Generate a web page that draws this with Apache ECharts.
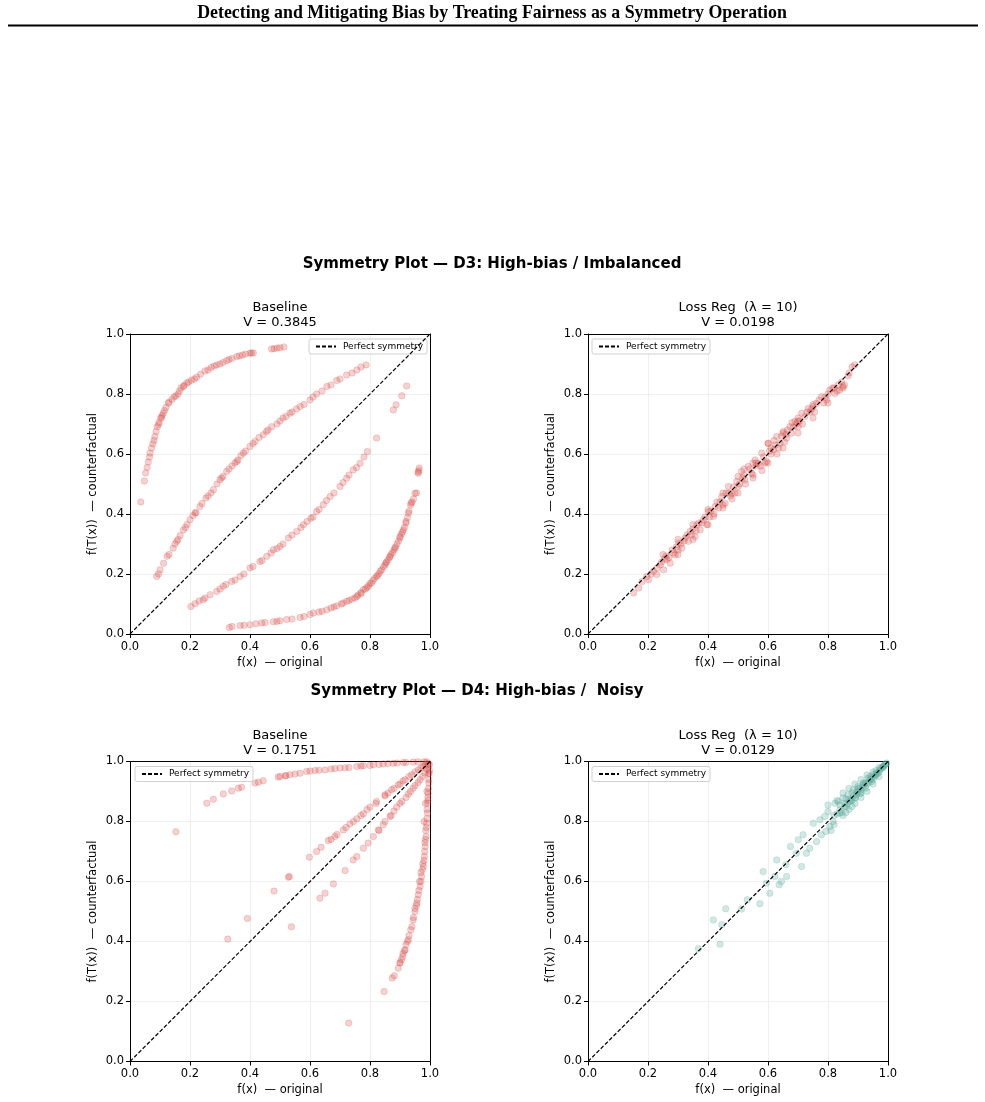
<!DOCTYPE html>
<html>
<head>
<meta charset="utf-8">
<script src="https://cdn.jsdelivr.net/npm/echarts@6/dist/echarts.min.js"></script>
<style>
html, body { margin: 0; padding: 0; background: #fff; }
#symmetry-plots { width: 985px; height: 1102px; }
</style>
</head>
<body>
<div id="symmetry-plots"></div>
<script>
// values: [f(x), f(T(x))]
const d3Baseline = [
  // upper arc
  [0.036,0.44],[0.048,0.51],[0.052,0.537],[0.057,0.555],[0.061,0.573],[0.065,0.59],[0.067,0.603],
  [0.072,0.62],[0.076,0.634],[0.08,0.645],[0.083,0.658],[0.087,0.675],[0.091,0.691],[0.095,0.698],
  [0.097,0.705],[0.102,0.719],[0.105,0.722],[0.107,0.728],[0.111,0.736],[0.115,0.745],[0.12,0.755],
  [0.128,0.769],[0.13,0.773],[0.14,0.782],[0.147,0.79],[0.153,0.794],[0.16,0.8],[0.165,0.81],
  [0.17,0.82],[0.178,0.825],[0.18,0.828],[0.189,0.836],[0.195,0.84],[0.205,0.846],[0.215,0.85],
  [0.222,0.856],[0.235,0.866],[0.25,0.877],[0.26,0.88],[0.27,0.888],[0.28,0.893],[0.289,0.897],
  [0.3,0.9],[0.31,0.905],[0.322,0.911],[0.33,0.915],[0.34,0.918],[0.356,0.925],[0.365,0.927],
  [0.375,0.93],[0.385,0.933],[0.4,0.936],[0.405,0.937],[0.411,0.937],[0.472,0.95],[0.48,0.951],
  [0.49,0.953],[0.5,0.954],[0.513,0.957],
  // middle upper band
  [0.089,0.192],[0.095,0.2],[0.1,0.214],[0.112,0.236],[0.124,0.259],[0.13,0.265],[0.144,0.286],
  [0.15,0.3],[0.156,0.309],[0.16,0.315],[0.167,0.328],[0.178,0.347],[0.185,0.355],[0.19,0.365],
  [0.2,0.381],[0.21,0.395],[0.217,0.403],[0.22,0.405],[0.233,0.425],[0.24,0.435],[0.253,0.453],
  [0.26,0.46],[0.27,0.47],[0.278,0.481],[0.29,0.5],[0.3,0.514],[0.305,0.52],[0.31,0.525],
  [0.322,0.542],[0.33,0.55],[0.34,0.56],[0.35,0.57],[0.356,0.575],[0.36,0.58],[0.37,0.595],
  [0.378,0.603],[0.385,0.61],[0.4,0.625],[0.41,0.635],[0.417,0.642],[0.43,0.655],[0.444,0.664],
  [0.455,0.675],[0.46,0.68],[0.472,0.691],[0.49,0.7],[0.5,0.71],[0.51,0.72],[0.52,0.725],
  [0.533,0.736],[0.54,0.74],[0.555,0.75],[0.567,0.758],[0.58,0.765],[0.6,0.78],[0.61,0.79],
  [0.622,0.8],[0.64,0.81],[0.656,0.825],[0.67,0.83],[0.689,0.845],[0.7,0.85],[0.722,0.863],
  [0.74,0.87],[0.756,0.88],[0.77,0.89],[0.787,0.897],
  // middle lower band
  [0.203,0.092],[0.217,0.101],[0.23,0.11],[0.244,0.114],[0.25,0.12],[0.267,0.131],[0.289,0.142],
  [0.3,0.15],[0.311,0.159],[0.32,0.165],[0.339,0.175],[0.35,0.18],[0.367,0.192],[0.38,0.2],
  [0.4,0.22],[0.41,0.225],[0.433,0.242],[0.44,0.245],[0.456,0.259],[0.47,0.27],[0.478,0.281],
  [0.49,0.285],[0.5,0.292],[0.51,0.3],[0.528,0.32],[0.54,0.33],[0.556,0.342],[0.57,0.355],
  [0.578,0.364],[0.59,0.375],[0.603,0.386],[0.61,0.39],[0.622,0.408],[0.63,0.415],[0.644,0.431],
  [0.655,0.445],[0.667,0.458],[0.68,0.47],[0.7,0.492],[0.71,0.505],[0.722,0.519],[0.73,0.53],
  [0.744,0.547],[0.755,0.555],[0.767,0.569],[0.78,0.59],[0.791,0.608],[0.822,0.653],
  [0.878,0.747],[0.887,0.764],[0.906,0.794],[0.922,0.827],
  // lower right curve
  [0.331,0.022],[0.34,0.025],[0.367,0.028],[0.38,0.029],[0.4,0.031],[0.42,0.034],[0.439,0.037],
  [0.45,0.038],[0.478,0.041],[0.49,0.042],[0.5,0.044],[0.522,0.048],[0.54,0.05],[0.567,0.055],
  [0.58,0.058],[0.6,0.065],[0.611,0.07],[0.63,0.073],[0.64,0.076],[0.656,0.081],[0.67,0.087],
  [0.68,0.09],[0.689,0.094],[0.705,0.1],[0.71,0.103],[0.722,0.109],[0.73,0.112],[0.74,0.116],
  [0.75,0.12],[0.756,0.125],[0.76,0.13],[0.77,0.135],[0.77,0.138],[0.778,0.148],[0.785,0.15],
  [0.79,0.155],[0.795,0.16],[0.8,0.168],[0.805,0.17],[0.81,0.178],[0.815,0.185],[0.822,0.192],
  [0.825,0.195],[0.83,0.202],[0.835,0.21],[0.839,0.214],[0.845,0.224],[0.85,0.23],[0.853,0.236],
  [0.855,0.24],[0.86,0.247],[0.865,0.255],[0.867,0.259],[0.87,0.265],[0.875,0.272],[0.88,0.28],
  [0.883,0.286],[0.885,0.29],[0.89,0.3],[0.895,0.31],[0.9,0.32],[0.9,0.325],[0.905,0.333],
  [0.908,0.34],[0.911,0.347],[0.915,0.355],[0.92,0.37],[0.92,0.375],[0.925,0.388],[0.928,0.403],
  [0.93,0.41],[0.935,0.43],[0.937,0.436],[0.94,0.44],[0.945,0.45],[0.95,0.469],[0.955,0.47],
  [0.96,0.54],[0.961,0.536],[0.963,0.545],[0.964,0.553]
];

const d3LossReg = [
  [0.152,0.137],[0.169,0.153],[0.18,0.175],[0.196,0.192],[0.202,0.181],[0.218,0.209],[0.229,0.198],
  [0.241,0.231],[0.252,0.214],[0.263,0.248],[0.274,0.236],[0.285,0.27],[0.29,0.264],[0.302,0.303],
  [0.313,0.286],[0.324,0.32],[0.335,0.309],[0.34,0.342],[0.357,0.325],[0.363,0.364],[0.374,0.347],
  [0.385,0.381],[0.396,0.364],[0.401,0.408],[0.418,0.392],[0.424,0.425],[0.435,0.42],[0.446,0.458],
  [0.457,0.436],[0.468,0.492],[0.479,0.469],[0.496,0.508],[0.501,0.492],[0.512,0.542],[0.523,0.514],
  [0.534,0.558],[0.545,0.536],[0.557,0.58],[0.568,0.569],[0.579,0.603],[0.595,0.575],[0.601,0.636],
  [0.618,0.614],[0.629,0.658],[0.64,0.636],[0.651,0.675],[0.662,0.653],[0.673,0.691],[0.678,0.669],
  [0.69,0.708],[0.701,0.691],[0.712,0.736],[0.723,0.725],[0.734,0.752],[0.751,0.758],[0.762,0.769],
  [0.778,0.791],[0.795,0.78],[0.806,0.813],[0.823,0.802],[0.834,0.83],[0.839,0.813],[0.85,0.825],
  [0.867,0.86],[0.889,0.897],
  [0.26,0.26],[0.31,0.3],[0.37,0.37],[0.43,0.44],[0.47,0.47],[0.52,0.53],[0.56,0.56],[0.61,0.62],
  [0.66,0.665],[0.7,0.71],[0.74,0.74],[0.79,0.79],[0.82,0.82],
  [0.21,0.2],[0.23,0.22],[0.245,0.24],[0.255,0.25],[0.27,0.255],[0.28,0.28],[0.295,0.29],[0.3,0.28],
  [0.32,0.31],[0.33,0.33],[0.345,0.33],[0.35,0.35],[0.36,0.345],[0.38,0.37],[0.39,0.39],[0.405,0.39],
  [0.41,0.41],[0.42,0.4],[0.44,0.44],[0.45,0.43],[0.46,0.47],[0.475,0.46],[0.485,0.49],[0.49,0.47],
  [0.505,0.5],[0.515,0.52],[0.525,0.5],[0.54,0.55],[0.55,0.53],[0.56,0.57],[0.575,0.56],[0.585,0.59],
  [0.59,0.57],[0.605,0.61],[0.61,0.6],[0.625,0.63],[0.635,0.62],[0.645,0.66],[0.655,0.64],[0.665,0.68],
  [0.685,0.69],[0.695,0.7],[0.705,0.71],[0.715,0.7],[0.73,0.74],[0.745,0.75],[0.755,0.74],[0.77,0.78],
  [0.785,0.77],[0.8,0.8],[0.815,0.82],[0.83,0.81],[0.845,0.84],[0.855,0.83],[0.87,0.87],[0.88,0.89],
  // outer edges of the band
  [0.3,0.265],[0.35,0.315],[0.4,0.365],[0.45,0.42],[0.5,0.47],[0.55,0.52],[0.6,0.57],[0.65,0.62],
  [0.7,0.67],[0.75,0.72],[0.8,0.77],[0.85,0.82],[0.25,0.265],[0.3,0.315],[0.35,0.365],[0.4,0.415],
  [0.45,0.47],[0.5,0.525],[0.55,0.57],[0.6,0.635],[0.65,0.67],[0.7,0.72],[0.75,0.765],[0.58,0.545],
  [0.63,0.6],[0.48,0.45],[0.52,0.55],[0.62,0.645],[0.68,0.705]
];

const d4Baseline = [
  // top arc
  [0.153,0.766],[0.256,0.861],[0.278,0.874],[0.311,0.892],[0.339,0.902],[0.361,0.911],[0.372,0.914],
  [0.417,0.928],[0.428,0.931],[0.444,0.936],[0.494,0.948],[0.5,0.95],[0.517,0.952],[0.52,0.953],
  [0.533,0.956],[0.55,0.958],[0.567,0.961],[0.589,0.967],[0.6,0.968],[0.617,0.97],[0.63,0.971],
  [0.65,0.972],[0.67,0.975],[0.683,0.977],[0.7,0.978],[0.717,0.979],[0.73,0.98],[0.756,0.983],
  [0.77,0.985],[0.778,0.986],[0.8,0.987],[0.811,0.989],[0.83,0.99],[0.844,0.992],[0.86,0.993],
  [0.878,0.994],[0.89,0.995],[0.911,0.997],[0.92,0.997],[0.944,0.998],[0.96,0.999],[0.98,0.999],
  [0.989,0.999],
  // above diagonal
  [0.598,0.681],[0.622,0.7],[0.637,0.714],[0.661,0.737],[0.67,0.74],[0.683,0.75],[0.69,0.757],
  [0.711,0.772],[0.72,0.78],[0.733,0.792],[0.745,0.8],[0.756,0.809],[0.77,0.82],[0.778,0.826],
  [0.79,0.84],[0.8,0.848],[0.82,0.86],[0.822,0.867],[0.85,0.885],[0.85,0.889],[0.86,0.895],
  [0.872,0.906],[0.88,0.91],[0.894,0.922],[0.9,0.925],[0.91,0.935],[0.917,0.939],[0.93,0.95],
  [0.939,0.956],[0.95,0.965],[0.961,0.972],[0.97,0.978],[0.978,0.983],[0.985,0.99],[0.994,0.994],
  [0.531,0.617],[0.528,0.614],[0.48,0.568],[0.391,0.477],[0.326,0.408],[0.538,0.449],[0.717,0.637],
  // below diagonal
  [0.633,0.544],[0.65,0.561],[0.678,0.592],[0.744,0.672],[0.756,0.683],[0.778,0.711],[0.794,0.728],
  [0.811,0.75],[0.828,0.772],[0.83,0.77],[0.844,0.789],[0.85,0.8],[0.867,0.817],[0.87,0.82],
  [0.88,0.835],[0.889,0.848],[0.9,0.86],[0.906,0.867],[0.92,0.88],[0.928,0.892],[0.935,0.9],
  [0.944,0.911],[0.95,0.92],[0.96,0.93],[0.967,0.939],[0.975,0.95],[0.983,0.961],[0.99,0.975],
  [0.994,0.983],
  // steep band near x = 1
  [0.847,0.233],[0.874,0.278],[0.881,0.286],[0.894,0.311],[0.9,0.328],[0.9,0.33],[0.905,0.34],
  [0.909,0.35],[0.91,0.36],[0.915,0.37],[0.917,0.372],[0.92,0.39],[0.925,0.4],[0.928,0.406],
  [0.93,0.42],[0.936,0.439],[0.94,0.45],[0.944,0.472],[0.945,0.48],[0.95,0.5],[0.95,0.51],
  [0.955,0.52],[0.956,0.528],[0.958,0.54],[0.961,0.556],[0.963,0.57],[0.967,0.583],[0.965,0.6],
  [0.97,0.6],[0.972,0.617],[0.97,0.63],[0.975,0.64],[0.978,0.65],[0.976,0.66],[0.98,0.67],
  [0.981,0.683],[0.982,0.7],[0.984,0.717],[0.983,0.73],[0.985,0.74],[0.987,0.75],[0.986,0.77],
  [0.988,0.78],[0.989,0.794],[0.98,0.8],[0.99,0.81],[0.991,0.828],[0.99,0.84],[0.985,0.86],
  [0.992,0.861],[0.993,0.87],[0.993,0.88],[0.994,0.894],[0.99,0.9],[0.995,0.91],[0.996,0.928],
  [0.996,0.94],[0.995,0.96],[0.997,0.961],[0.998,0.97],[0.998,0.99],[0.729,0.128]
];

const d4LossReg = [
  [0.368,0.376],[0.418,0.472],[0.44,0.391],[0.459,0.509],[0.446,0.456],[0.512,0.508],[0.531,0.539],
  [0.573,0.526],[0.584,0.633],[0.595,0.594],[0.606,0.561],[0.623,0.617],[0.629,0.672],[0.637,0.589],
  [0.645,0.6],[0.66,0.656],[0.662,0.617],[0.675,0.717],[0.695,0.694],[0.701,0.739],[0.712,0.65],
  [0.717,0.756],[0.728,0.694],[0.739,0.711],[0.751,0.794],[0.762,0.733],[0.773,0.806],[0.778,0.756],
  [0.789,0.817],[0.793,0.767],[0.8,0.833],[0.806,0.783],[0.817,0.8],[0.823,0.861],[0.834,0.867],
  [0.839,0.828],[0.85,0.878],[0.856,0.85],[0.867,0.889],[0.873,0.867],[0.884,0.906],[0.892,0.878],
  [0.9,0.917],[0.908,0.894],[0.917,0.928],[0.926,0.911],[0.933,0.944],[0.945,0.933],[0.95,0.956],
  [0.961,0.961],[0.972,0.972],[0.983,0.983],[0.994,0.992],
  [0.86,0.85],[0.88,0.87],[0.9,0.9],[0.91,0.905],[0.92,0.915],[0.93,0.925],[0.94,0.94],[0.955,0.95],
  [0.965,0.96],[0.975,0.975],[0.985,0.985],[0.99,0.99],[0.87,0.875],[0.895,0.89],[0.915,0.92],
  [0.82,0.82],[0.83,0.825],[0.84,0.84],[0.845,0.83],[0.855,0.86],[0.865,0.86],[0.875,0.87],
  [0.885,0.885],[0.89,0.88],[0.895,0.9],[0.905,0.91],[0.91,0.895],[0.925,0.93],[0.935,0.93],
  [0.945,0.945],[0.95,0.94],[0.96,0.955],[0.97,0.965],[0.98,0.98],[0.985,0.98],[0.995,0.995],
  [0.88,0.895],[0.9,0.91],[0.92,0.925],[0.94,0.95],[0.96,0.97],[0.86,0.875],[0.84,0.855],
  // outer edges of the band
  [0.85,0.895],[0.85,0.82],[0.87,0.91],[0.87,0.84],[0.89,0.925],[0.89,0.86],[0.91,0.94],[0.91,0.88],
  [0.93,0.955],[0.93,0.9],[0.95,0.965],[0.95,0.925],[0.97,0.98],[0.97,0.95],[0.8,0.855],[0.81,0.77],
  [0.82,0.79],[0.83,0.87],[0.86,0.83],[0.88,0.85]
];

const panelData = [d3Baseline, d3LossReg, d4Baseline, d4LossReg];
const panelNames = ['Baseline', 'Loss Reg  (λ = 10)', 'Baseline', 'Loss Reg  (λ = 10)'];
const vScores = ['0.3845', '0.0198', '0.1751', '0.0129'];
const diagonal = [[0, 0], [1, 1]];
const tickValues = [0, 0.2, 0.4, 0.6, 0.8, 1.0];
const suptitles = ['Symmetry Plot — D3: High-bias / Imbalanced', 'Symmetry Plot — D4: High-bias /  Noisy'];
const mainTitle = 'Detecting and Mitigating Bias by Treating Fairness as a Symmetry Operation';

const FONT = 'DejaVu Sans';
const RED = 'rgba(214,69,65,0.3)';
const TEAL = 'rgba(80,165,152,0.32)';
const panels = [
  {left: 130, top: 334, color: RED, legendLeft: 309},
  {left: 588, top: 334, color: RED, legendLeft: 592},
  {left: 130, top: 761.5, color: RED, legendLeft: 135},
  {left: 588, top: 761.5, color: TEAL, legendLeft: 592},
];

const drawChart = () => {
  const myChart = echarts.init(document.getElementById('symmetry-plots'));

  const axisCommon = {
    type: 'value',
    min: tickValues[0],
    max: tickValues[tickValues.length - 1],
    interval: 0.2,
    nameLocation: 'middle',
    nameTextStyle: {fontFamily: FONT, fontSize: 11.5, color: '#000'},
    axisLine: {show: true, onZero: false, lineStyle: {color: '#000', width: 1}},
    axisTick: {show: true, length: 4, lineStyle: {color: '#000'}},
    axisLabel: {fontFamily: FONT, fontSize: 11.5, color: '#000', formatter: (v) => v.toFixed(1)},
    splitLine: {show: true, lineStyle: {color: '#ebebeb', width: 0.8}},
  };
  // top / right spines only
  const spine = {
    type: 'value', min: 0, max: 1,
    axisLine: {show: true, onZero: false, lineStyle: {color: '#000', width: 1}},
    axisTick: {show: false}, axisLabel: {show: false}, splitLine: {show: false},
  };

  const graphics = [
    {type: 'text', x: 492, y: 13, scaleX: 0.94, originX: 0,
      style: {text: mainTitle, fill: '#000', font: 'bold 19px "Liberation Serif"', textAlign: 'center', textVerticalAlign: 'middle'}},
    {type: 'line', shape: {x1: 8, y1: 25.5, x2: 978, y2: 25.5}, style: {stroke: '#000', lineWidth: 2}},
    {type: 'text', x: 492, y: 264,
      style: {text: suptitles[0], fill: '#000', font: `bold 15px "${FONT}"`, textAlign: 'center', textVerticalAlign: 'middle'}},
    {type: 'text', x: 477, y: 691,
      style: {text: suptitles[1], fill: '#000', font: `bold 15px "${FONT}"`, textAlign: 'center', textVerticalAlign: 'middle'}},
  ];
  panels.forEach((p, i) => {
    graphics.push({type: 'text', x: p.left + 150, y: p.top - 26,
      style: {text: panelNames[i], fill: '#000', font: `13px "${FONT}"`, textAlign: 'center', textVerticalAlign: 'middle'}});
    graphics.push({type: 'text', x: p.left + 150, y: p.top - 11,
      style: {text: 'V = ' + vScores[i], fill: '#000', font: `13px "${FONT}"`, textAlign: 'center', textVerticalAlign: 'middle'}});
  });

  const option = {
    animation: false,
    backgroundColor: '#fff',
    grid: panels.map((p) => ({left: p.left, top: p.top, width: 300, height: 300})),
    xAxis: [
      ...panels.map((p, i) => ({
        ...axisCommon, gridIndex: i, position: 'bottom', name: 'f(x)  — original', nameGap: 23,
        axisLabel: {...axisCommon.axisLabel, margin: 7},
      })),
      ...panels.map((p, i) => ({...spine, gridIndex: i, position: 'top'})),
    ],
    yAxis: [
      ...panels.map((p, i) => ({
        ...axisCommon, gridIndex: i, position: 'left', name: 'f(T(x))  — counterfactual', nameGap: 31,
        axisLabel: {...axisCommon.axisLabel, margin: 6},
      })),
      ...panels.map((p, i) => ({...spine, gridIndex: i, position: 'right'})),
    ],
    legend: panels.map((p) => ({
      data: ['Perfect symmetry'],
      left: p.legendLeft,
      top: p.top + 5,
      orient: 'vertical',
      padding: [3, 4, 3, 6],
      itemWidth: 20,
      itemHeight: 8,
      itemStyle: {color: 'rgba(0,0,0,0)', borderColor: 'rgba(0,0,0,0)', borderWidth: 0},
      borderColor: '#d0d0d0',
      borderWidth: 1,
      borderRadius: 2,
      backgroundColor: 'rgba(255,255,255,0.85)',
      textStyle: {fontFamily: FONT, fontSize: 9, color: '#000', padding: [0, 0, 0, 2]},
    })),
    graphic: graphics,
    series: [
      ...panels.map((p, i) => ({
        type: 'scatter',
        xAxisIndex: i,
        yAxisIndex: i,
        data: panelData[i],
        symbolSize: 6.5,
        itemStyle: {color: p.color, borderColor: p.color, borderWidth: 0.8},
        z: 2,
      })),
      ...panels.map((p, i) => ({
        name: 'Perfect symmetry',
        type: 'line',
        xAxisIndex: i,
        yAxisIndex: i,
        data: diagonal,
        showSymbol: false,
        symbol: 'none',
        itemStyle: {color: '#000'},
        lineStyle: {color: '#000', width: 1.2, type: [4, 2]},
        z: 4,
      })),
    ],
  };
  myChart.setOption(option);
  return myChart;
};

drawChart();
</script>
</body>
</html>
